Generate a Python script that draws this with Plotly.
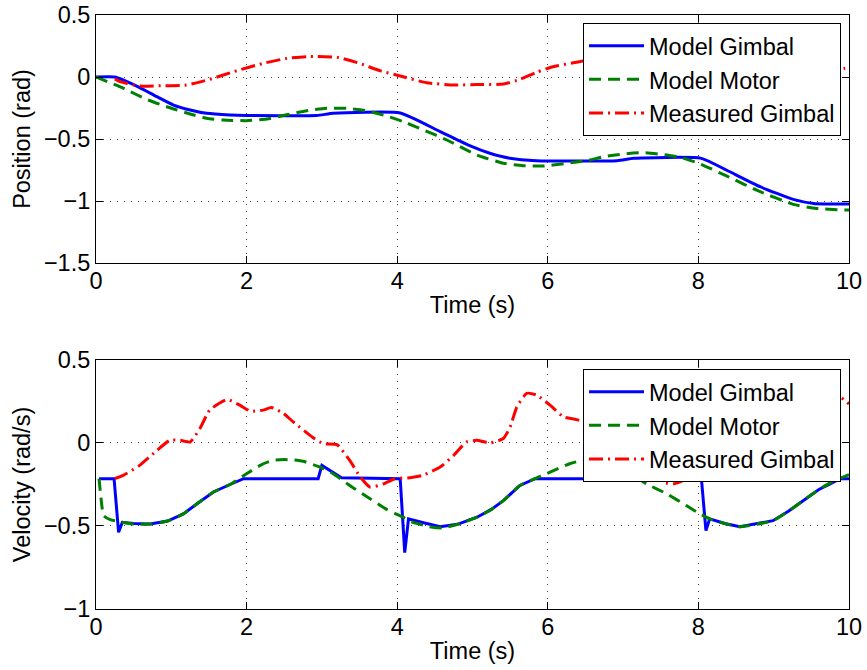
import plotly.graph_objects as go

# ---------------- data ----------------
x_ticks = [0, 2, 4, 6, 8, 10]
x_tick_text = ["0", "2", "4", "6", "8", "10"]
pos_ticks = [-1.5, -1, -0.5, 0, 0.5]
pos_tick_text = ["\u22121.5", "\u22121", "\u22120.5", "0", "0.5"]
vel_ticks = [-1, -0.5, 0, 0.5]
vel_tick_text = ["\u22121", "\u22120.5", "0", "0.5"]

series_names = ["Model Gimbal", "Model Motor", "Measured Gimbal"]

# Position (rad)
pos_gimbal_t = [0, 0.25, 0.36, 0.58, 0.81, 1.03, 1.25, 1.47, 1.78, 2.0, 2.93, 3.15, 4.04,
                4.57, 4.97, 5.23, 5.5, 5.85, 6.92, 7.14, 8.04, 8.37, 8.82, 9.26, 9.53, 10]
pos_gimbal_v = [0, 0, -0.024, -0.086, -0.159, -0.226, -0.266, -0.293, -0.306, -0.31, -0.31,
                -0.293, -0.29, -0.44, -0.556, -0.615, -0.656, -0.675, -0.675, -0.656, -0.656,
                -0.75, -0.885, -0.987, -1.02, -1.025]

pos_motor_t = [0, 0.36, 0.67, 0.94, 1.25, 1.47, 1.69, 2.0, 2.27, 2.53, 2.8, 3.06, 3.33, 3.59,
               3.86, 4.08, 4.35, 4.66, 5.06, 5.41, 5.67, 5.94, 6.25, 6.52, 6.74, 7.0, 7.27,
               7.58, 7.76, 8.02, 8.38, 8.82, 9.26, 9.57, 9.9, 10]
pos_motor_v = [0, -0.09, -0.18, -0.24, -0.298, -0.333, -0.347, -0.352, -0.339, -0.305, -0.272,
               -0.253, -0.253, -0.272, -0.315, -0.36, -0.427, -0.508, -0.629, -0.696, -0.715,
               -0.718, -0.696, -0.675, -0.643, -0.621, -0.61, -0.629, -0.648, -0.70, -0.80,
               -0.925, -1.027, -1.06, -1.072, -1.073]

pos_meas_t = [0.25, 0.32, 0.58, 0.89, 1.2, 1.51, 1.87, 2.22, 2.53, 2.8, 3.2, 3.5, 3.77, 4.04,
              4.39, 4.75, 5.06, 5.41, 5.63, 5.85, 6.07, 6.34, 6.47, 6.8, 7.2, 7.6, 8.0, 8.4,
              8.8, 9.2, 9.5, 9.75, 9.89, 10]
pos_meas_v = [-0.015, -0.038, -0.073, -0.07, -0.065, -0.019, 0.051, 0.11, 0.15, 0.164, 0.159,
              0.11, 0.051, 0.008, -0.046, -0.065, -0.06, -0.057, -0.019, 0.038, 0.083, 0.115,
              0.129, 0.155, 0.162, 0.11, 0.01, -0.045, -0.06, -0.04, 0.0, 0.035, 0.065, 0.075]

# Velocity (rad/s)
vel_gimbal_t = [0.04, 0.24, 0.3, 0.35, 0.5, 0.72, 0.95, 1.16, 1.36, 1.56, 1.78, 1.96, 2.95,
                3.0, 3.26, 4.04, 4.1, 4.15, 4.35, 4.57, 4.8, 5.06, 5.25, 5.41, 5.63, 5.83,
                6.96, 6.99, 7.13, 7.22, 8.04, 8.1, 8.15, 8.35, 8.55, 8.99, 9.2, 9.39, 9.6,
                9.75, 9.88, 10]
vel_gimbal_v = [-0.215, -0.215, -0.538, -0.478, -0.485, -0.488, -0.47, -0.427, -0.36, -0.295,
                -0.25, -0.215, -0.215, -0.135, -0.209, -0.215, -0.66, -0.457, -0.48, -0.505,
                -0.49, -0.447, -0.40, -0.347, -0.256, -0.215, -0.215, -0.094, -0.185, -0.21,
                -0.215, -0.528, -0.457, -0.485, -0.504, -0.468, -0.41, -0.347, -0.28, -0.246,
                -0.215, -0.215]

vel_motor_t = [0.04, 0.08, 0.1, 0.19, 0.5, 0.72, 0.95, 1.16, 1.36, 1.56, 1.78, 2.0, 2.2, 2.35,
               2.5, 2.62, 2.75, 2.95, 3.15, 3.37, 3.64, 3.86, 4.08, 4.21, 4.43, 4.6, 4.8, 5.06,
               5.25, 5.41, 5.63, 5.83, 5.98, 6.29, 6.52, 6.78, 7.04, 7.31, 7.58, 7.84, 8.02,
               8.15, 8.35, 8.55, 8.99, 9.2, 9.39, 9.6, 9.75, 10]
vel_motor_v = [-0.215, -0.387, -0.437, -0.462, -0.488, -0.488, -0.47, -0.427, -0.36, -0.295,
               -0.25, -0.185, -0.13, -0.105, -0.1, -0.102, -0.11, -0.141, -0.185, -0.256,
               -0.336, -0.40, -0.447, -0.478, -0.504, -0.512, -0.49, -0.447, -0.40, -0.347,
               -0.256, -0.215, -0.185, -0.125, -0.1, -0.115, -0.165, -0.246, -0.306, -0.377,
               -0.427, -0.457, -0.485, -0.504, -0.468, -0.41, -0.347, -0.28, -0.24, -0.19]

vel_meas_t = [0.25, 0.36, 0.58, 0.81, 0.98, 1.12, 1.25, 1.38, 1.51, 1.74, 1.91, 2.05, 2.22,
              2.33, 2.49, 2.62, 2.88, 3.02, 3.2, 3.37, 3.51, 3.64, 3.82, 3.97, 4.17, 4.34,
              4.57, 4.75, 4.92, 5.06, 5.23, 5.41, 5.5, 5.59, 5.72, 5.85, 6.03, 6.21, 6.38,
              6.6, 6.9, 7.1, 7.36, 7.53, 7.67, 7.84, 8.06, 8.29, 8.51, 8.69, 8.85, 9.0, 9.15,
              9.3, 9.45, 9.6, 9.75, 9.88, 10]
vel_meas_v = [-0.215, -0.195, -0.135, -0.044, 0.016, 0.016, 0.006, 0.087, 0.198, 0.262, 0.228,
              0.192, 0.198, 0.214, 0.178, 0.127, 0.033, -0.004, -0.01, -0.105, -0.205, -0.266,
              -0.246, -0.215, -0.209, -0.195, -0.145, -0.074, 0.006, 0.016, 0.0, 0.027, 0.097,
              0.218, 0.299, 0.289, 0.228, 0.157, 0.141, 0.11, 0.04, -0.03, -0.145, -0.236,
              -0.246, -0.222, -0.226, -0.205, -0.155, -0.1, -0.03, 0.02, 0.03, 0.08, 0.18,
              0.25, 0.285, 0.278, 0.235]

# ---------------- styles ----------------
FONT = "Liberation Sans, Arial, Helvetica, sans-serif"
FS = 23.5
colors = ["#0000FF", "#008000", "#FF0000"]
dashes = ["solid", "12px,7px", "14px,5px,2px,5px"]
top_shapes = ["spline", "spline", "spline"]
bot_shapes = ["linear", "spline", "spline"]

fig = go.Figure()

top = [(pos_gimbal_t, pos_gimbal_v), (pos_motor_t, pos_motor_v), (pos_meas_t, pos_meas_v)]
bot = [(vel_gimbal_t, vel_gimbal_v), (vel_motor_t, vel_motor_v), (vel_meas_t, vel_meas_v)]

for i, (t, v) in enumerate(top):
    fig.add_trace(go.Scatter(x=t, y=v, mode="lines", name=series_names[i],
                             line=dict(color=colors[i], width=3, dash=dashes[i],
                                       shape=top_shapes[i], smoothing=0.5),
                             xaxis="x", yaxis="y", legend="legend"))
for i, (t, v) in enumerate(bot):
    fig.add_trace(go.Scatter(x=t, y=v, mode="lines", name=series_names[i],
                             line=dict(color=colors[i], width=3, dash=dashes[i],
                                       shape=bot_shapes[i], smoothing=0.5),
                             xaxis="x2", yaxis="y2", legend="legend2"))

axis_common = dict(showline=True, linecolor="black", linewidth=1, mirror="ticks",
                   ticks="inside", ticklen=7, tickcolor="black", automargin=False,
                   ticklabeloverflow="allow",
                   showgrid=True, gridcolor="#444444", gridwidth=1, griddash="1px,6px",
                   zeroline=False, tickfont=dict(family=FONT, size=FS, color="black"))

legend_common = dict(font=dict(family=FONT, size=FS, color="black"),
                     bgcolor="white", bordercolor="black", borderwidth=1,
                     xanchor="right", yanchor="top", x=0.9894,
                     itemwidth=55, tracegroupgap=0)

fig.update_layout(
    width=867, height=670,
    margin=dict(l=96, r=18, t=15, b=61, autoexpand=False),
    paper_bgcolor="white", plot_bgcolor="white",
    font=dict(family=FONT, size=FS, color="black"),
    xaxis=dict(domain=[0, 1], range=[0, 10], tickvals=x_ticks, ticktext=x_tick_text,
               anchor="y", ticklabelstandoff=-3,
               title=dict(text="Time (s)", standoff=3,
                          font=dict(family=FONT, size=FS)), **axis_common),
    yaxis=dict(domain=[0.5825, 1], range=[-1.5, 0.5], tickvals=pos_ticks,
               ticktext=pos_tick_text, anchor="x",
               title=dict(text="Position (rad)", standoff=6,
                          font=dict(family=FONT, size=FS)), **axis_common),
    xaxis2=dict(domain=[0, 1], range=[0, 10], tickvals=x_ticks, ticktext=x_tick_text,
                anchor="y2", ticklabelstandoff=-3,
                title=dict(text="Time (s)", standoff=3,
                           font=dict(family=FONT, size=FS)), **axis_common),
    yaxis2=dict(domain=[0, 0.4192], range=[-1, 0.5], tickvals=vel_ticks,
                ticktext=vel_tick_text, anchor="x2",
                title=dict(text="Velocity (rad/s)", standoff=6,
                           font=dict(family=FONT, size=FS)), **axis_common),
    legend=dict(y=0.9865, **legend_common),
    legend2=dict(y=0.404, **legend_common),
)

# remove the default 8px page margin so the figure sits at the window's top-left corner
fig.write_html("out.html", config={"displayModeBar": False},
               post_script="document.body.style.margin='0';")
